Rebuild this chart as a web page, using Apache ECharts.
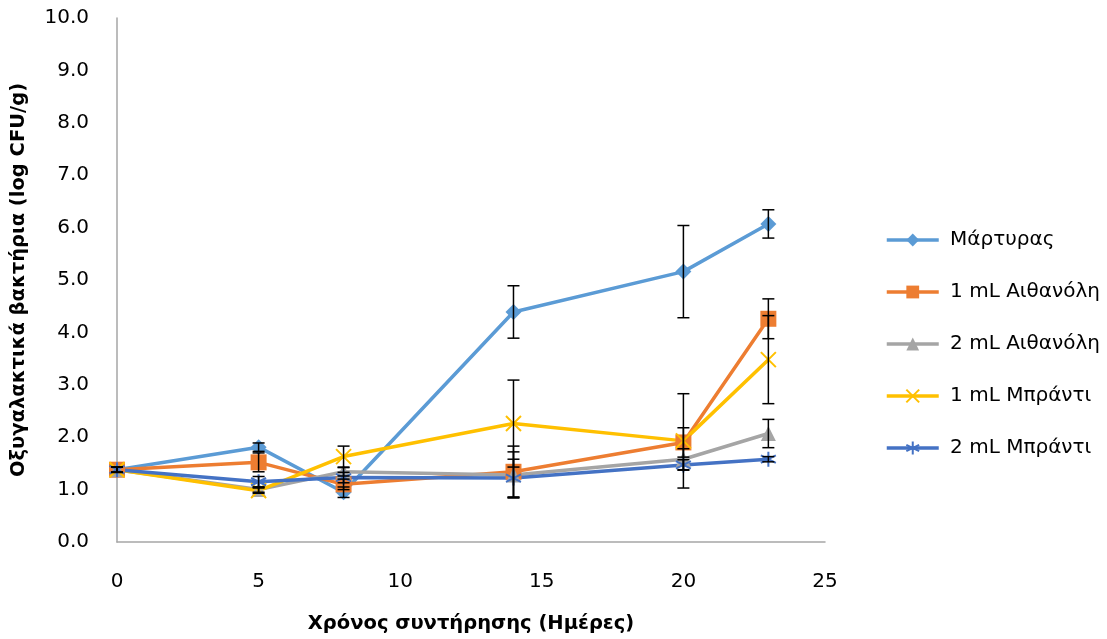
<!DOCTYPE html>
<html><head><meta charset="utf-8">
<script src="https://cdn.jsdelivr.net/npm/echarts@6/dist/echarts.min.js"></script>
<style>html,body{margin:0;padding:0;background:#fff}#c{width:1107px;height:639px}</style>
</head><body><div id="c"></div>
<script>
var days = [0, 5, 8, 14, 20, 23];
var seriesNames = ['Μάρτυρας', '1 mL Αιθανόλη', '2 mL Αιθανόλη', '1 mL Μπράντι', '2 mL Μπράντι'];
var control = [1.38, 1.81, 0.95, 4.39, 5.16, 6.07];
var eth1 = [1.38, 1.52, 1.10, 1.34, 1.90, 4.26];
var eth2 = [1.38, 1.00, 1.34, 1.28, 1.58, 2.07];
var brandy1 = [1.38, 0.98, 1.63, 2.26, 1.93, 3.48];
var brandy2 = [1.38, 1.15, 1.23, 1.22, 1.47, 1.58];
var controlErr = [0.05, 0.08, 0.10, 0.50, 0.88, 0.27];
var eth1Err = [0.05, 0.18, 0.10, 0.49, 0.28, 0.38];
var eth2Err = [0.05, 0.05, 0.08, 0.44, 0.20, 0.27];
var brandy1Err = [0.05, 0.05, 0.20, 0.83, 0.90, 0.84];
var brandy2Err = [0.05, 0.10, 0.10, 0.36, 0.10, 0.05];
var yTicks = ['0.0','1.0','2.0','3.0','4.0','5.0','6.0','7.0','8.0','9.0','10.0'];

var values = [control, eth1, eth2, brandy1, brandy2];
var errs = [controlErr, eth1Err, eth2Err, brandy1Err, brandy2Err];
var colors = ['#5B9BD5', '#ED7D31', '#A5A5A5', '#FFC000', '#4472C4'];
var symbols = ['diamond', 'rect', 'triangle',
  'path://M0,0L10,10M10,0L0,10',
  'path://M5,0L5,10M0.7,2.5L9.3,7.5M9.3,2.5L0.7,7.5'];
var sizes = [16, 16, 15, 15, 15];
var FONT = 'DejaVu Sans';

var series = [];
values.forEach(function (vals, i) {
  var stroke = i >= 3;
  series.push({
    name: seriesNames[i], type: 'line',
    data: days.map(function (d, k) { return [d, vals[k]]; }),
    symbol: symbols[i], symbolSize: sizes[i],
    lineStyle: { color: colors[i], width: 3.5 },
    itemStyle: stroke ? { color: colors[i], borderColor: colors[i], borderWidth: 2 } : { color: colors[i] },
    z: 3
  });
  series.push({
    name: seriesNames[i] + '_err', type: 'custom', z: 4,
    data: days.map(function (d, k) { return [d, vals[k] - errs[i][k], vals[k] + errs[i][k]]; }),
    renderItem: function (params, api) {
      var lo = api.coord([api.value(0), api.value(1)]);
      var hi = api.coord([api.value(0), api.value(2)]);
      var w = 6;
      var st = { stroke: '#000', lineWidth: 1.5 };
      return { type: 'group', children: [
        { type: 'line', shape: { x1: lo[0], y1: lo[1], x2: hi[0], y2: hi[1] }, style: st },
        { type: 'line', shape: { x1: lo[0] - w, y1: lo[1], x2: lo[0] + w, y2: lo[1] }, style: st },
        { type: 'line', shape: { x1: hi[0] - w, y1: hi[1], x2: hi[0] + w, y2: hi[1] }, style: st }
      ]};
    },
    silent: true
  });
});

var chart = echarts.init(document.getElementById('c'));
chart.setOption({
  animation: false,
  textStyle: { fontFamily: FONT },
  grid: { left: 117, right: 282, top: 18, bottom: 92 },
  legend: {
    orient: 'vertical', left: 880, top: 225,
    data: seriesNames,
    itemWidth: 52, itemHeight: 16, itemGap: 32,
    lineStyle: { width: 3.5 },
    formatter: function (n) { return ' ' + n; },
    textStyle: { fontFamily: FONT, fontSize: 20, color: '#000' }
  },
  xAxis: {
    type: 'value', min: 0, max: 25, interval: 5,
    name: 'Χρόνος συντήρησης (Ημέρες)', nameLocation: 'middle', nameGap: 72,
    nameTextStyle: { fontFamily: FONT, fontSize: 19.5, fontWeight: 'bold', color: '#000' },
    axisLine: { lineStyle: { color: '#A6A6A6', width: 1.5 } },
    axisTick: { show: false },
    splitLine: { show: false },
    axisLabel: { fontFamily: FONT, fontSize: 20, color: '#000', margin: 30 }
  },
  yAxis: {
    type: 'value', min: 0, max: 10, interval: 1,
    name: 'Οξυγαλακτικά βακτήρια (log CFU/g)', nameLocation: 'middle', nameGap: 88,
    nameTextStyle: { fontFamily: FONT, fontSize: 19.5, fontWeight: 'bold', color: '#000' },
    axisLine: { show: true, lineStyle: { color: '#A6A6A6', width: 1.5 } },
    axisTick: { show: false },
    splitLine: { show: false },
    axisLabel: { fontFamily: FONT, fontSize: 20, color: '#000', margin: 28,
      formatter: function (v) { return yTicks[Math.round(v)]; } }
  },
  series: series
});
</script></body></html>
